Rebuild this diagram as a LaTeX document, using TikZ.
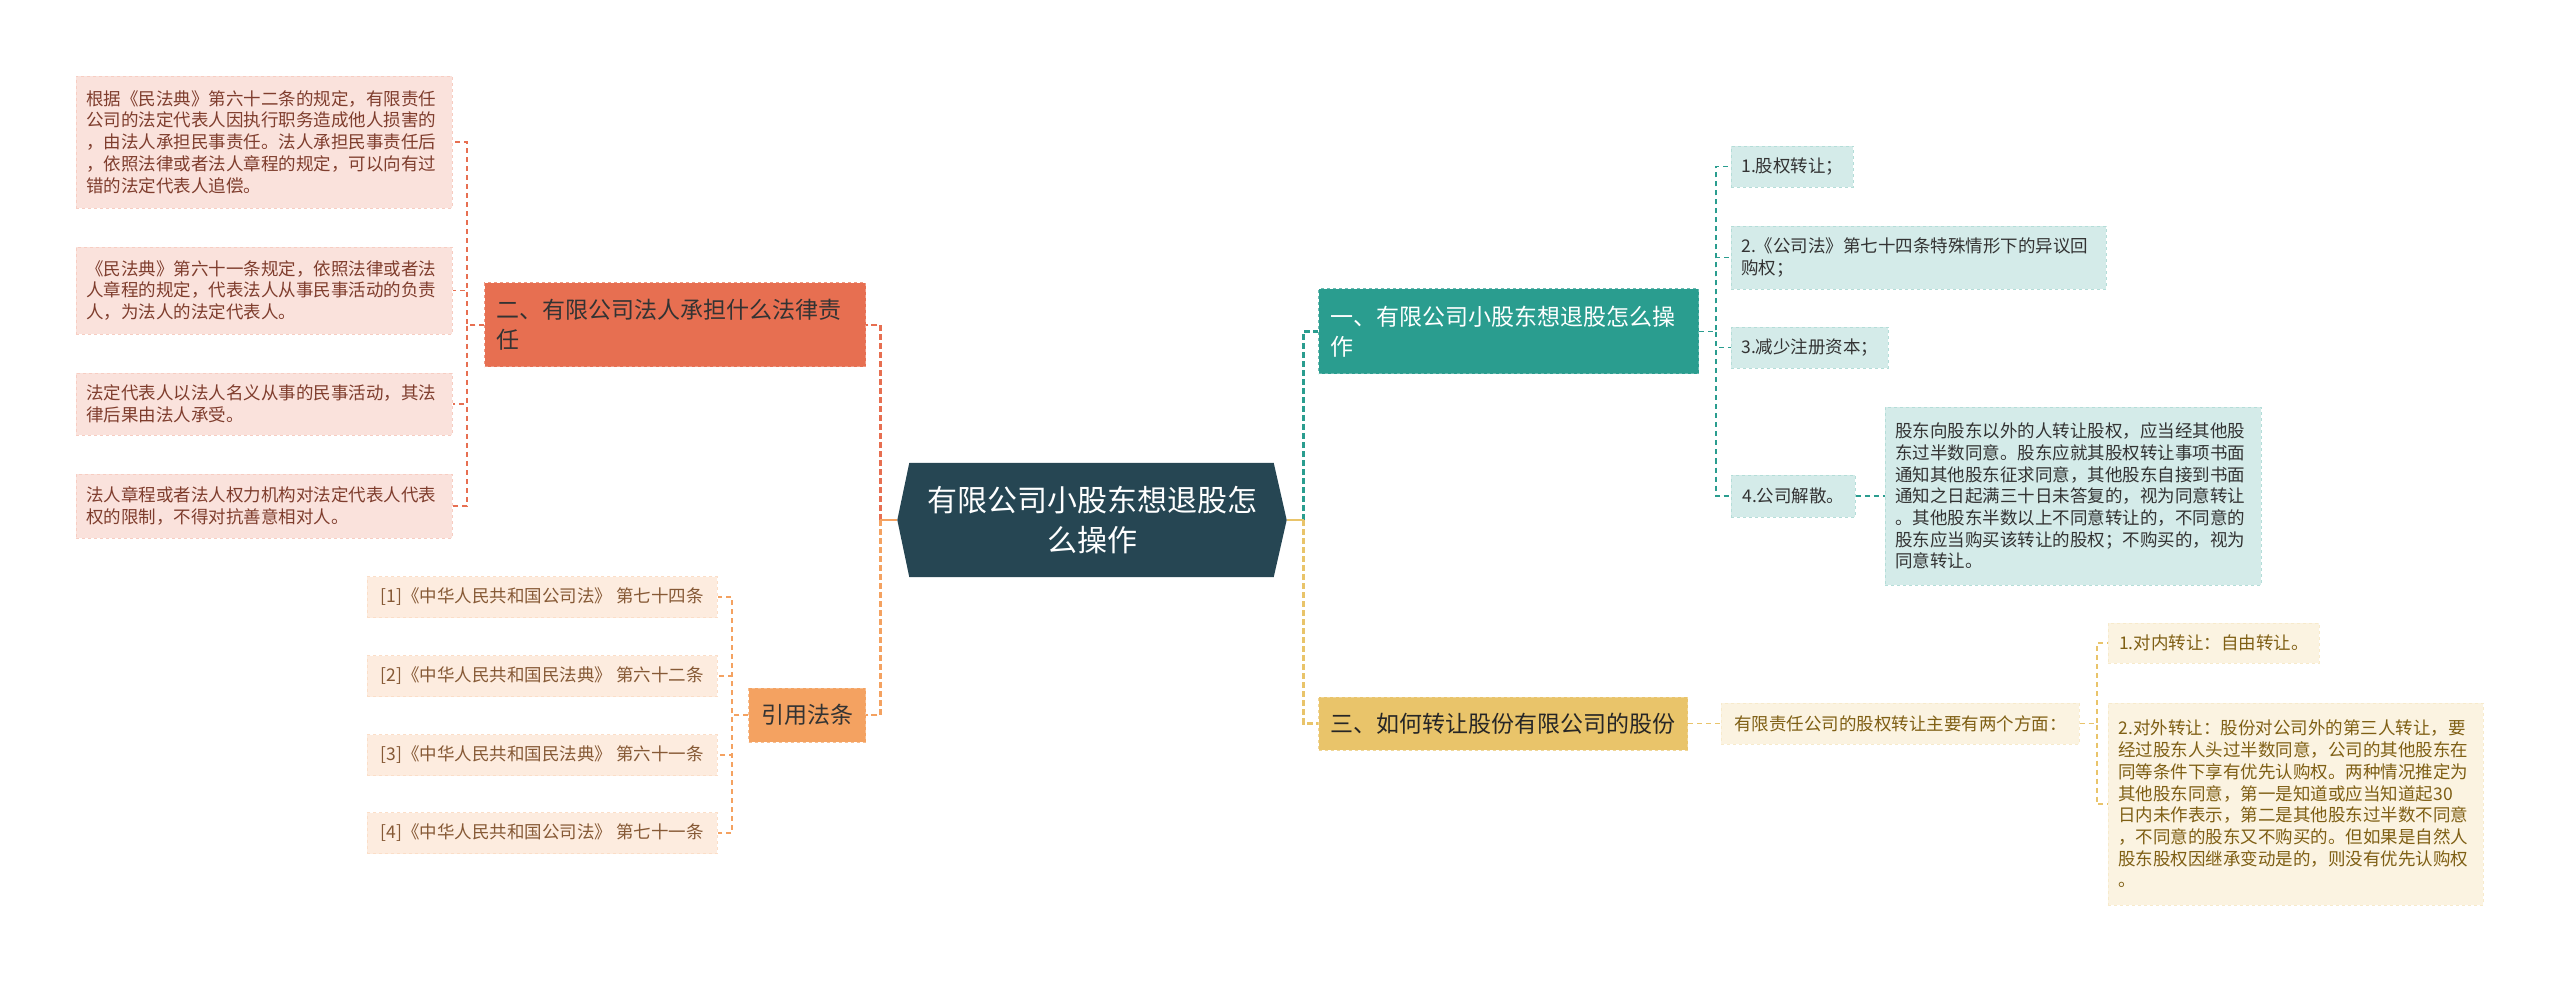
\documentclass[tikz,border=0pt]{standalone}
\usepackage{fontspec}
\setmainfont{Noto Sans CJK SC}
\usepackage{xcolor}
\definecolor{Navy}{HTML}{264653}
\definecolor{Coral}{HTML}{E76F51}
\definecolor{Apricot}{HTML}{F4A261}
\definecolor{Teal}{HTML}{2A9D8F}
\definecolor{Gold}{HTML}{E9C46A}
\definecolor{GoldText}{HTML}{7F5F14}
\usepackage{tikz}
\usetikzlibrary{
  positioning,
  backgrounds
}

\begin{document}
\begin{tikzpicture}[
    x=1pt, y=-1pt,
    trunk/.style={draw=#1, line width=2.5pt, dash pattern=on 6pt off 3pt},
    stub/.style={draw=#1, line width=2.5pt},
    twig/.style={draw=#1, line width=1.5pt, dash pattern=on 5pt off 4pt},
    root/.style={
      rectangle, text=white,
      minimum width=389pt, minimum height=114pt, inner sep=0pt,
      align=center, font=\fontsize{30}{40}\selectfont
    },
    branch/.style={
      rectangle, fill=#1, draw=#1!70!white, dashed, line width=1pt,
      anchor=west, align=left, inner xsep=12pt, inner ysep=0pt,
      font=\fontsize{23}{30}\selectfont
    },
    leaf/.style={
      rectangle, fill=#1!20, draw=#1!35, dashed, line width=0.8pt,
      anchor=west, align=left, inner xsep=10pt, inner ysep=0pt,
      font=\fontsize{17.5}{21.7}\selectfont
    }
  ]
    % centre
    \node[root] (root) at (1092,520) {有限公司小股东想退股怎\\么操作};
    \begin{scope}[on background layer]
      \path[fill=white, use as bounding box] (0,0) rectangle (2560,981);
      \fill[Navy] (root.west) -- ([xshift=12pt]root.north west)
        -- ([xshift=-13pt]root.north east) -- (root.east)
        -- ([xshift=-13pt]root.south east) -- ([xshift=12pt]root.south west) -- cycle;
    \end{scope}

    % left: legal liability
    \node[branch=Coral, text=black!80, minimum width=381pt, minimum height=84pt,
      text width=357pt] (b2) at (484,325) {二、有限公司法人承担什么法律责\\任};
    \node[leaf=Coral, text=Coral!55!black, minimum width=376pt, minimum height=132pt,
      text width=356pt] (l1) at (76,142)
      {根据《民法典》第六十二条的规定，有限责任\\公司的法定代表人因执行职务造成他人损害的\\，由法人承担民事责任。法人承担民事责任后\\，依照法律或者法人章程的规定，可以向有过\\错的法定代表人追偿。};
    \node[leaf=Coral, text=Coral!55!black, minimum width=376pt, minimum height=87pt,
      text width=356pt] (l2) at (76,290.5)
      {《民法典》第六十一条规定，依照法律或者法\\人章程的规定，代表法人从事民事活动的负责\\人，为法人的法定代表人。};
    \node[leaf=Coral, text=Coral!55!black, minimum width=376pt, minimum height=62pt,
      text width=356pt] (l3) at (76,404)
      {法定代表人以法人名义从事的民事活动，其法\\律后果由法人承受。};
    \node[leaf=Coral, text=Coral!55!black, minimum width=376pt, minimum height=64pt,
      text width=356pt] (l4) at (76,506)
      {法人章程或者法人权力机构对法定代表人代表\\权的限制，不得对抗善意相对人。};

    % left: citations
    \node[branch=Apricot, text=black!80, anchor=center, align=center,
      minimum width=117pt, minimum height=54pt] (cite) at (807,715) {引用法条};
    \node[leaf=Apricot, text=Apricot!55!black, minimum width=350pt, minimum height=41pt]
      (c1) at (367,597) {[1]《中华人民共和国公司法》 第七十四条};
    \node[leaf=Apricot, text=Apricot!55!black, minimum width=350pt, minimum height=41pt]
      (c2) at (367,676) {[2]《中华人民共和国民法典》 第六十二条};
    \node[leaf=Apricot, text=Apricot!55!black, minimum width=350pt, minimum height=41pt]
      (c3) at (367,755) {[3]《中华人民共和国民法典》 第六十一条};
    \node[leaf=Apricot, text=Apricot!55!black, minimum width=350pt, minimum height=41pt]
      (c4) at (367,833) {[4]《中华人民共和国公司法》 第七十一条};

    % right: how to quit
    \node[branch=Teal, text=white, minimum width=380pt, minimum height=85pt,
      text width=356pt] (b1) at (1318,331.5) {一、有限公司小股东想退股怎么操\\作};
    \node[leaf=Teal, text=black!80, minimum width=122pt, minimum height=41pt]
      (t1) at (1731,166.5) {1.股权转让；};
    \node[leaf=Teal, text=black!80, minimum width=375pt, minimum height=63pt,
      text width=355pt] (t2) at (1731,257.5) {2.《公司法》第七十四条特殊情形下的异议回\\购权；};
    \node[leaf=Teal, text=black!80, minimum width=157pt, minimum height=41pt]
      (t3) at (1731,347.5) {3.减少注册资本；};
    \node[leaf=Teal, text=black!80, minimum width=124pt, minimum height=42pt]
      (t4) at (1731,496) {4.公司解散。};
    \node[leaf=Teal, text=black!80, minimum width=376pt, minimum height=178pt,
      text width=356pt, right=29pt of t4] (t5)
      {股东向股东以外的人转让股权，应当经其他股\\东过半数同意。股东应就其股权转让事项书面\\通知其他股东征求同意，其他股东自接到书面\\通知之日起满三十日未答复的，视为同意转让\\。其他股东半数以上不同意转让的，不同意的\\股东应当购买该转让的股权；不购买的，视为\\同意转让。};

    % right: transfer
    \node[branch=Gold, text=black!85, minimum width=367pt, minimum height=53pt]
      (b3) at (1318,723.5) {三、如何转让股份有限公司的股份};
    \node[leaf=Gold, text=GoldText, minimum width=358pt, minimum height=41pt,
      right=33pt of b3] (g0) {有限责任公司的股权转让主要有两个方面：};
    \node[leaf=Gold, text=GoldText, minimum width=211pt, minimum height=40pt]
      (g1) at (2108,643) {1.对内转让：自由转让。};
    \node[leaf=Gold, text=GoldText, minimum width=375pt, minimum height=202pt,
      text width=355pt] (g2) at (2108,804)
      {2.对外转让：股份对公司外的第三人转让，要\\经过股东人头过半数同意，公司的其他股东在\\同等条件下享有优先认购权。两种情况推定为\\其他股东同意，第一是知道或应当知道起30\\日内未作表示，第二是其他股东过半数不同意\\，不同意的股东又不购买的。但如果是自然人\\股东股权因继承变动是的，则没有优先认购权\\。};

    % trunk connectors
    \coordinate (lj) at ([xshift=-17pt]root.west);
    \coordinate (rj) at ([xshift=17pt]root.east);
    \draw[trunk=Coral] (lj) |- (b2.east);
    \draw[trunk=Apricot] (lj) |- (cite.east);
    \draw[stub=Apricot] (root.west) -- (lj);
    \draw[trunk=Teal] (rj) |- (b1.west);
    \draw[trunk=Gold] (rj) |- (b3.west);
    \draw[stub=Gold] (root.east) -- (rj);

    % leaf connectors
    \foreach \n in {l1,l2,l3,l4}
      \draw[twig=Coral] (b2.west) -- ++(-17,0) |- (\n.east);
    \foreach \n in {c1,c2,c3,c4}
      \draw[twig=Apricot] (cite.west) -- ++(-16,0) |- (\n.east);
    \foreach \n in {t1,t2,t3,t4}
      \draw[twig=Teal] (b1.east) -- ++(17,0) |- (\n.west);
    \draw[twig=Teal] (t4.east) -- (t5.west);
    \draw[twig=Gold] (b3.east) -- (g0.west);
    \foreach \n in {g1,g2}
      \draw[twig=Gold] (g0.east) -- ++(17,0) |- (\n.west);
  \end{tikzpicture}
\end{document}
